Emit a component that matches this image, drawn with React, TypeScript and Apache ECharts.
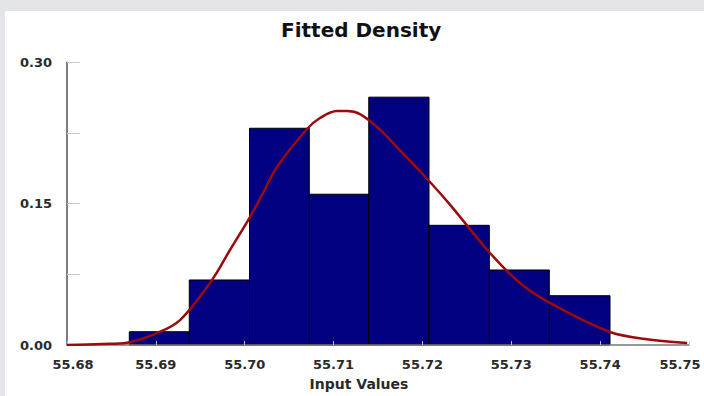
import React, { useEffect, useRef } from 'react';
import * as echarts from 'echarts';

const titleText = 'Fitted Density';
const xAxisName = 'Input Values';

// histogram bin edges and relative frequencies
const binEdges = [55.68701, 55.69376, 55.70054, 55.70727, 55.71396, 55.72074, 55.72753, 55.73428, 55.74111];
const binHeights = [0.0141, 0.069, 0.23, 0.16, 0.263, 0.127, 0.0796, 0.0523];

// fitted density curve
const curveX = [55.68, 55.68394, 55.68675, 55.69013, 55.69272, 55.69632, 55.69834, 55.70059, 55.70206, 55.70363, 55.70701, 55.70847, 55.71039, 55.71151, 55.71297, 55.71489, 55.71714, 55.72085, 55.7231, 55.72761, 55.73098, 55.73436, 55.74111, 55.74595, 55.74978];
const curveY = [0, 0.0011, 0.0025, 0.0127, 0.0265, 0.069, 0.1008, 0.1358, 0.1613, 0.1889, 0.2292, 0.2409, 0.2483, 0.2483, 0.2451, 0.2313, 0.21, 0.173, 0.149, 0.0976, 0.0658, 0.0446, 0.0138, 0.0053, 0.0021];

const xMin = 55.68;
const xMax = 55.75;
const xStep = 0.01;
const yMin = 0;
const yMax = 0.3;
const yStep = 0.075;

export default function App() {
  const ref = useRef<HTMLDivElement>(null);
  useEffect(() => {
    const chart = echarts.init(ref.current!, null, { renderer: 'svg' });
    const font = 'DejaVu Sans';
    chart.setOption({
      animation: false,
      backgroundColor: '#ffffff',
      title: {
        text: titleText,
        left: 276,
        top: 9,
        padding: 0,
        textStyle: { fontFamily: font, fontWeight: 'bold', fontSize: 20, color: '#111' },
      },
      grid: { left: 62, right: 15, top: 51.3, bottom: 51, containLabel: false },
      xAxis: {
        type: 'value',
        min: xMin,
        max: xMax,
        interval: xStep,
        z: 3,
        axisLine: { show: true, lineStyle: { color: '#777', width: 1.5 } },
        axisTick: { show: true, inside: true, length: 4, lineStyle: { color: '#b8bcd8', width: 1 } },
        splitLine: { show: false },
        axisLabel: {
          margin: 13,
          fontFamily: font,
          fontWeight: 'bold',
          fontSize: 13,
          color: '#2a2a2a',
          formatter: (v: number) => {
            const s = v.toFixed(2);
            if (Math.abs(v - xMin) < 1e-6) return '{a|' + s + '}';
            if (Math.abs(v - xMax) < 1e-6) return '{b|' + s + '}';
            return s;
          },
          rich: {
            a: { fontFamily: font, fontWeight: 'bold', fontSize: 13, color: '#2a2a2a', padding: [0, 0, 0, 12] },
            b: { fontFamily: font, fontWeight: 'bold', fontSize: 13, color: '#2a2a2a', padding: [0, 18, 0, 0] },
          },
        },
      },
      yAxis: {
        type: 'value',
        min: yMin,
        max: yMax,
        interval: yStep,
        axisLine: { show: true, lineStyle: { color: '#555', width: 1.5 } },
        axisTick: { show: true, inside: true, length: 13, lineStyle: { color: '#c8c8c8', width: 1 } },
        splitLine: { show: false },
        axisLabel: {
          margin: 15,
          fontFamily: font,
          fontWeight: 'bold',
          fontSize: 13,
          color: '#2a2a2a',
          formatter: (v: number) => (Math.round(v / yStep) % 2 === 0 ? v.toFixed(2) : ''),
        },
      },
      graphic: [
        {
          type: 'text',
          x: 354,
          y: 373,
          style: {
            text: xAxisName,
            fontFamily: font,
            fontWeight: 'bold',
            fontSize: 14,
            fill: '#2a2a2a',
            textAlign: 'center',
            textVerticalAlign: 'middle',
          },
        },
      ],
      series: [
        {
          type: 'custom',
          z: 2,
          data: binHeights.map((h, i) => [binEdges[i], binEdges[i + 1], h]),
          encode: { x: [0, 1], y: 2 },
          renderItem: (params: any, api: any) => {
            const p0 = api.coord([api.value(0), api.value(2)]);
            const p1 = api.coord([api.value(1), 0]);
            return {
              type: 'rect',
              shape: { x: p0[0], y: p0[1], width: p1[0] - p0[0], height: p1[1] - p0[1] },
              style: { fill: '#000080', stroke: '#000', lineWidth: 1 },
            };
          },
        },
        {
          type: 'line',
          z: 5,
          data: curveX.map((x, i) => [x, curveY[i]]),
          smooth: 0.35,
          showSymbol: false,
          lineStyle: { color: '#9b0b0b', width: 2.5 },
        },
      ],
    });
    return () => chart.dispose();
  }, []);
  return (
    <div style={{ position: 'fixed', left: 0, top: 0, width: 704, height: 396, background: '#e4e5e8' }}>
      <div ref={ref} style={{ position: 'absolute', left: 5, top: 11, width: 699, height: 385, background: '#fff' }} />
    </div>
  );
}
